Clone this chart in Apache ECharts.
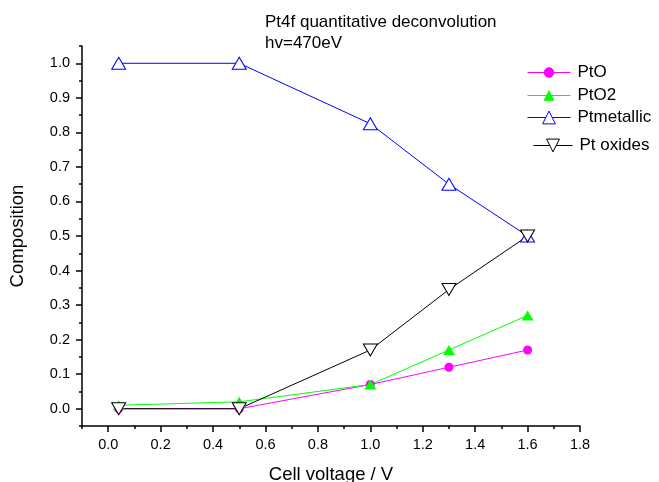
<!DOCTYPE html>
<html>
<head>
<meta charset="utf-8">
<script src="https://cdn.jsdelivr.net/npm/echarts@6/dist/echarts.min.js"></script>
<style>html,body{margin:0;padding:0;background:#fff;}#c{width:659px;height:482px;}</style>
</head>
<body>
<div id="c"></div>
<script>
const voltage = [0.04, 0.5, 1.0, 1.3, 1.6];
const ptO = [0, 0, 0.07, 0.12, 0.17];
const ptO2 = [0.01, 0.02, 0.07, 0.17, 0.27];
const ptMetallic = [1.0, 1.0, 0.825, 0.65, 0.5];
const ptOxides = [0, 0, 0.17, 0.345, 0.5];
const xTickLabels = [0, 0.2, 0.4, 0.6, 0.8, 1.0, 1.2, 1.4, 1.6, 1.8];
const yTickLabels = [0, 0.1, 0.2, 0.3, 0.4, 0.5, 0.6, 0.7, 0.8, 0.9, 1.0];

const FONT = '"Liberation Sans", Arial, sans-serif';
const pair = (xs, ys) => xs.map((x, i) => [x, ys[i]]);

const chart = echarts.init(document.getElementById('c'), null, {renderer: 'canvas'});
const axisLineStyle = {color: '#000', width: 1.5};
const legendBase = {
  orient: 'vertical', padding: 0, itemWidth: 43,
  textStyle: {fontFamily: FONT, fontSize: 17, color: '#000', padding: [0, 0, 0, 2]},
  selectedMode: false
};
function legendItem(name, fill, stroke, lineColor) {
  return {
    name: name,
    itemStyle: {color: fill, borderColor: stroke, borderWidth: 1},
    lineStyle: {color: lineColor, width: 1}
  };
}
chart.setOption({
  animation: false,
  backgroundColor: '#fff',
  title: {
    text: 'Pt4f quantitative deconvolution\nhv=470eV',
    left: 265, top: 12, padding: 0,
    textStyle: {fontFamily: FONT, fontSize: 17, fontWeight: 'normal', color: '#000', lineHeight: 21}
  },
  legend: [
    Object.assign({}, legendBase, {data: [legendItem('PtO', '#ff00ff', '#ff00ff', '#ff00ff')], left: 527, top: 64, itemHeight: 12}),
    Object.assign({}, legendBase, {data: [legendItem('PtO2', '#00ff00', '#00ff00', '#00ff00')], left: 527, top: 87, itemHeight: 12}),
    Object.assign({}, legendBase, {data: [legendItem('Ptmetallic', '#ffffff', '#0000ff', '#0000ff')], left: 527, top: 109, itemHeight: 16}),
    Object.assign({}, legendBase, {data: [legendItem('Pt oxides', '#ffffff', '#000000', '#000000')], left: 533, itemWidth: 39, top: 137, itemHeight: 16})
  ],
  grid: {left: 82, right: 79, top: 46, bottom: 56, containLabel: false, outerBoundsMode: 'none'},
  xAxis: [
    {
      type: 'value', min: -0.1, max: 1.8,
      name: 'Cell voltage / V', nameLocation: 'middle', nameGap: 39,
      nameTextStyle: {fontFamily: FONT, fontSize: 18.5, color: '#000'},
      axisLine: {onZero: false, lineStyle: axisLineStyle},
      axisTick: {customValues: xTickLabels, length: 6, lineStyle: {color: '#000', width: 1.5}},
      axisLabel: {customValues: xTickLabels, formatter: v => v.toFixed(1), fontFamily: FONT, fontSize: 14.5, color: '#000', margin: 11},
      splitLine: {show: false}
    },
    {
      type: 'value', min: -0.1, max: 1.8, interval: 0.1, position: 'bottom',
      axisLine: {show: false, onZero: false},
      axisTick: {length: 3, lineStyle: {color: '#000', width: 1.5}},
      axisLabel: {show: false}, splitLine: {show: false}
    }
  ],
  yAxis: [
    {
      type: 'value', min: -0.05, max: 1.05,
      name: 'Composition', nameLocation: 'middle', nameGap: 55,
      nameTextStyle: {fontFamily: FONT, fontSize: 18.5, color: '#000'},
      axisLine: {show: true, onZero: false, lineStyle: axisLineStyle},
      axisTick: {show: true, customValues: yTickLabels, length: 6, lineStyle: {color: '#000', width: 1.5}},
      axisLabel: {customValues: yTickLabels, formatter: v => v.toFixed(1), fontFamily: FONT, fontSize: 14.5, color: '#000', margin: 12},
      splitLine: {show: false}
    },
    {
      type: 'value', min: -0.05, max: 1.05, interval: 0.05, position: 'left',
      axisLine: {show: false, onZero: false},
      axisTick: {show: true, length: 3, lineStyle: {color: '#000', width: 1.5}},
      axisLabel: {show: false}, splitLine: {show: false}
    }
  ],
  series: [
    {
      name: 'PtO', type: 'line', data: pair(voltage, ptO),
      symbol: 'circle', symbolSize: 9,
      lineStyle: {color: '#ff00ff', width: 1},
      itemStyle: {color: '#ff00ff'}
    },
    {
      name: 'PtO2', type: 'line', data: pair(voltage, ptO2),
      symbol: 'triangle', symbolSize: [12, 10],
      lineStyle: {color: '#00ff00', width: 1},
      itemStyle: {color: '#00ff00'}
    },
    {
      name: 'Ptmetallic', type: 'line', data: pair(voltage, ptMetallic),
      symbol: 'triangle', symbolSize: [14, 12],
      lineStyle: {color: '#0000ff', width: 1},
      itemStyle: {color: '#ffffff', borderColor: '#0000ff', borderWidth: 1}
    },
    {
      name: 'Pt oxides', type: 'line', data: pair(voltage, ptOxides),
      symbol: 'triangle', symbolRotate: 180, symbolSize: [14, 12],
      lineStyle: {color: '#000000', width: 1},
      itemStyle: {color: '#ffffff', borderColor: '#000000', borderWidth: 1}
    }
  ]
});
</script>
</body>
</html>
